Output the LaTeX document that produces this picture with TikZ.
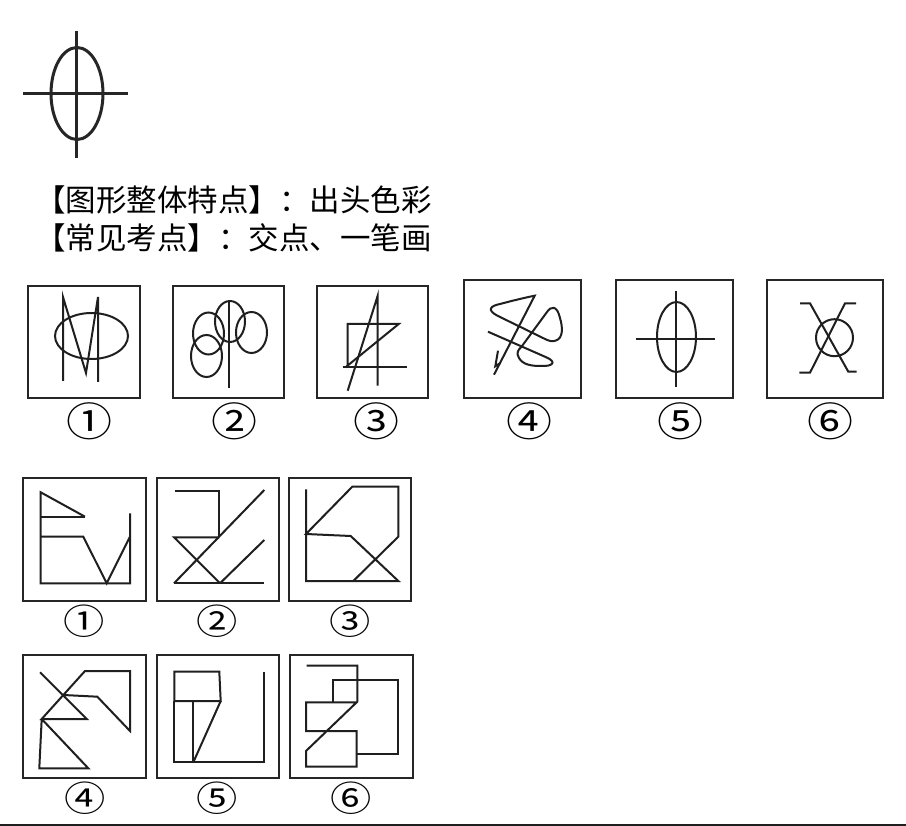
\documentclass[tikz,border=0pt]{standalone}
\usepackage{graphicx}
\usepackage{fontspec}
\newfontfamily\cjk{Noto Sans CJK SC}
\newcommand{\topnum}[1]{\scalebox{1.15}[1]{#1}}
\newcommand{\botnum}[1]{\scalebox{1.18}[1]{#1}}
\begin{document}
\begin{tikzpicture}[x=1pt,y=-1pt,
  frame/.style={draw=black!85, line width=2pt},
  fig/.style={draw=black!88, line width=2pt},
  big/.style={draw=black!85, line width=3pt},
  txt/.style={font=\cjk\fontsize{30.5}{36}\selectfont, inner sep=0pt, anchor=west},
  lbltop/.style={font=\cjk\fontsize{40}{40}\selectfont, inner sep=0pt},
  lblbot/.style={font=\cjk\fontsize{35}{35}\selectfont, inner sep=0pt}]
\useasboundingbox (0,0) rectangle (906,826);
\fill[white] (0,0) rectangle (906,826);
% top symbol
\draw[big] (77,93.5) ellipse [x radius=26pt, y radius=46pt];
\draw[big] (76,31) -- (76,158);
\draw[big] (23,94) -- (128,94);
% texts
\node[txt] (t1) at (35,200) {【图形整体特点】：出头色彩};
\node[txt] (t2) at (35,238) {【常见考点】：交点、一笔画};
% ---- top row frames
\draw[frame] (28,286) rectangle (140,398);
\draw[frame] (173,286) rectangle (284,398);
\draw[frame] (317,286) rectangle (428,398);
\draw[frame] (464,280) rectangle (581,398);
\draw[frame] (616,280) rectangle (733,398);
\draw[frame] (767,280) rectangle (883,398);
\node[lbltop] (a1) at (89.5,421) {\topnum{①}};
\node[lbltop] (a2) at (234,421) {\topnum{②}};
\node[lbltop] (a3) at (376,421) {\topnum{③}};
\node[lbltop] (a4) at (529,421) {\topnum{④}};
\node[lbltop] (a5) at (680,421) {\topnum{⑤}};
\node[lbltop] (a6) at (830,421) {\topnum{⑥}};
% box 1
\draw[fig] (91.5,336) ellipse [x radius=36.5pt, y radius=23pt];
\draw[fig] (63,381) -- (63,297) -- (86,373) -- (98,297) -- (98,382);
% box 2
\draw[fig] (229,302) -- (229,388);
\draw[fig] (230,321.5) ellipse [x radius=15pt, y radius=20.5pt];
\draw[fig] (208.5,333.5) ellipse [x radius=15.5pt, y radius=21pt];
\draw[fig] (251.5,332.5) ellipse [x radius=15.5pt, y radius=20.5pt];
\draw[fig] (206.5,356) ellipse [x radius=15.5pt, y radius=21pt];
% box 3
\draw[fig] (347.7,367.3) -- (347.7,324) -- (398.7,324) -- (345.5,367.3);
\draw[fig] (342.7,367.3) -- (406.7,367.3);
\draw[fig] (377.7,385.7) -- (377.7,295.7) -- (347.7,390.7);
% box 4 scribble
\draw[fig] (488,331.7) -- (546.3,357.3) .. controls (557,362) and (553,366.5) .. (541,366)
  .. controls (532,366) and (523,365) .. (519,358) .. controls (516,353) and (518,350) .. (521.3,347)
  -- (547,312) .. controls (551,306) and (557,305) .. (560,318) .. controls (563,328) and (563,338) .. (556,340.5)
  .. controls (552,342) and (549,341) .. (544,338.5) -- (497,315.5) .. controls (487,310) and (490,306) .. (500,304)
  .. controls (515,300) and (528,297) .. (534.7,295.7) -- (494,374.7);
\draw[fig] (498,350.7) -- (495.3,366.3) -- (500.3,363);
% box 5
\draw[fig] (676,291) -- (676,387);
\draw[fig] (636,339) -- (715,339);
\draw[fig] (676.5,337) ellipse [x radius=19.5pt, y radius=35pt];
% box 6
\draw[fig] (834.5,337.7) circle [radius=18.5pt];
\draw[fig] (800,303.3) -- (810,303.3) -- (848.3,371.7) -- (856.7,371.7);
\draw[fig] (856,303.3) -- (845,303.3) -- (810,372.7) -- (799.3,372.7);
% ---- bottom frames
\draw[frame] (23,478) rectangle (145.5,601);
\draw[frame] (156.5,478) rectangle (279,601);
\draw[frame] (288.5,478) rectangle (411,601);
\draw[frame] (23,655) rectangle (145.5,777.5);
\draw[frame] (157.3,655) rectangle (279.3,777.5);
\draw[frame] (290,655) rectangle (412.7,777.5);
\node[lblbot] (b1) at (84,621) {\botnum{①}};
\node[lblbot] (b2) at (217,621) {\botnum{②}};
\node[lblbot] (b3) at (350,621) {\botnum{③}};
\node[lblbot] (b4) at (85,798) {\botnum{④}};
\node[lblbot] (b5) at (217.3,798) {\botnum{⑤}};
\node[lblbot] (b6) at (350.7,798) {\botnum{⑥}};
% b1
\draw[fig] (85,516.7) -- (40.7,492.3) -- (40.7,583.3) -- (130,583.3) -- (130,513.3);
\draw[fig] (40.7,516.7) -- (85,516.7);
\draw[fig] (40.7,536.7) -- (83.3,536.7) -- (106.7,583.3) -- (130,536.7);
% b2
\draw[fig] (175,491) -- (219.3,491) -- (219.3,537.3);
\draw[fig] (219.3,537.3) -- (174,537.3) -- (220,583.3);
\draw[fig] (174,583.3) -- (264.3,490);
\draw[fig] (220,583.3) -- (264.3,540);
\draw[fig] (174,583.3) -- (264.3,583.3);
% b3
\draw[fig] (306,489.3) -- (306,581) -- (398.3,581) -- (350.7,536) -- (306,534) -- (352.3,486.7) -- (398.3,486.7) -- (398.3,536.7) -- (353.3,581);
% b4
\draw[fig] (40,672.3) -- (86.7,719) -- (41.7,719) -- (85,671) -- (130,671) -- (130,731) -- (97.3,696.7) -- (63.3,695);
\draw[fig] (41.7,719) -- (39.3,768.3) -- (88.3,768.3) -- (41.7,719);
% b5
\draw[fig] (174.3,701) -- (174.3,671.7) -- (219.3,671.7) -- (220.7,701) -- (174.3,701);
\draw[fig] (174.3,701) -- (174.3,762.3) -- (264,762.3) -- (264,671.7);
\draw[fig] (193.3,701) -- (193.3,762.3);
\draw[fig] (220.7,701) -- (193.3,762.3);
% b6
\draw[fig] (306.7,665.7) -- (357.3,665.7) -- (357.3,701.7) -- (306,751) -- (306,766.7) -- (356.7,766.7) -- (356.7,731) -- (306,731) -- (306,702.3) -- (357.3,702.3);
\draw[fig] (333.3,702.3) -- (333.3,680) -- (398.3,680) -- (398.3,754.3) -- (356.7,754.3);
% bottom rule
\fill[black!88] (0,823.5) rectangle (906,826);
\end{tikzpicture}
\end{document}
